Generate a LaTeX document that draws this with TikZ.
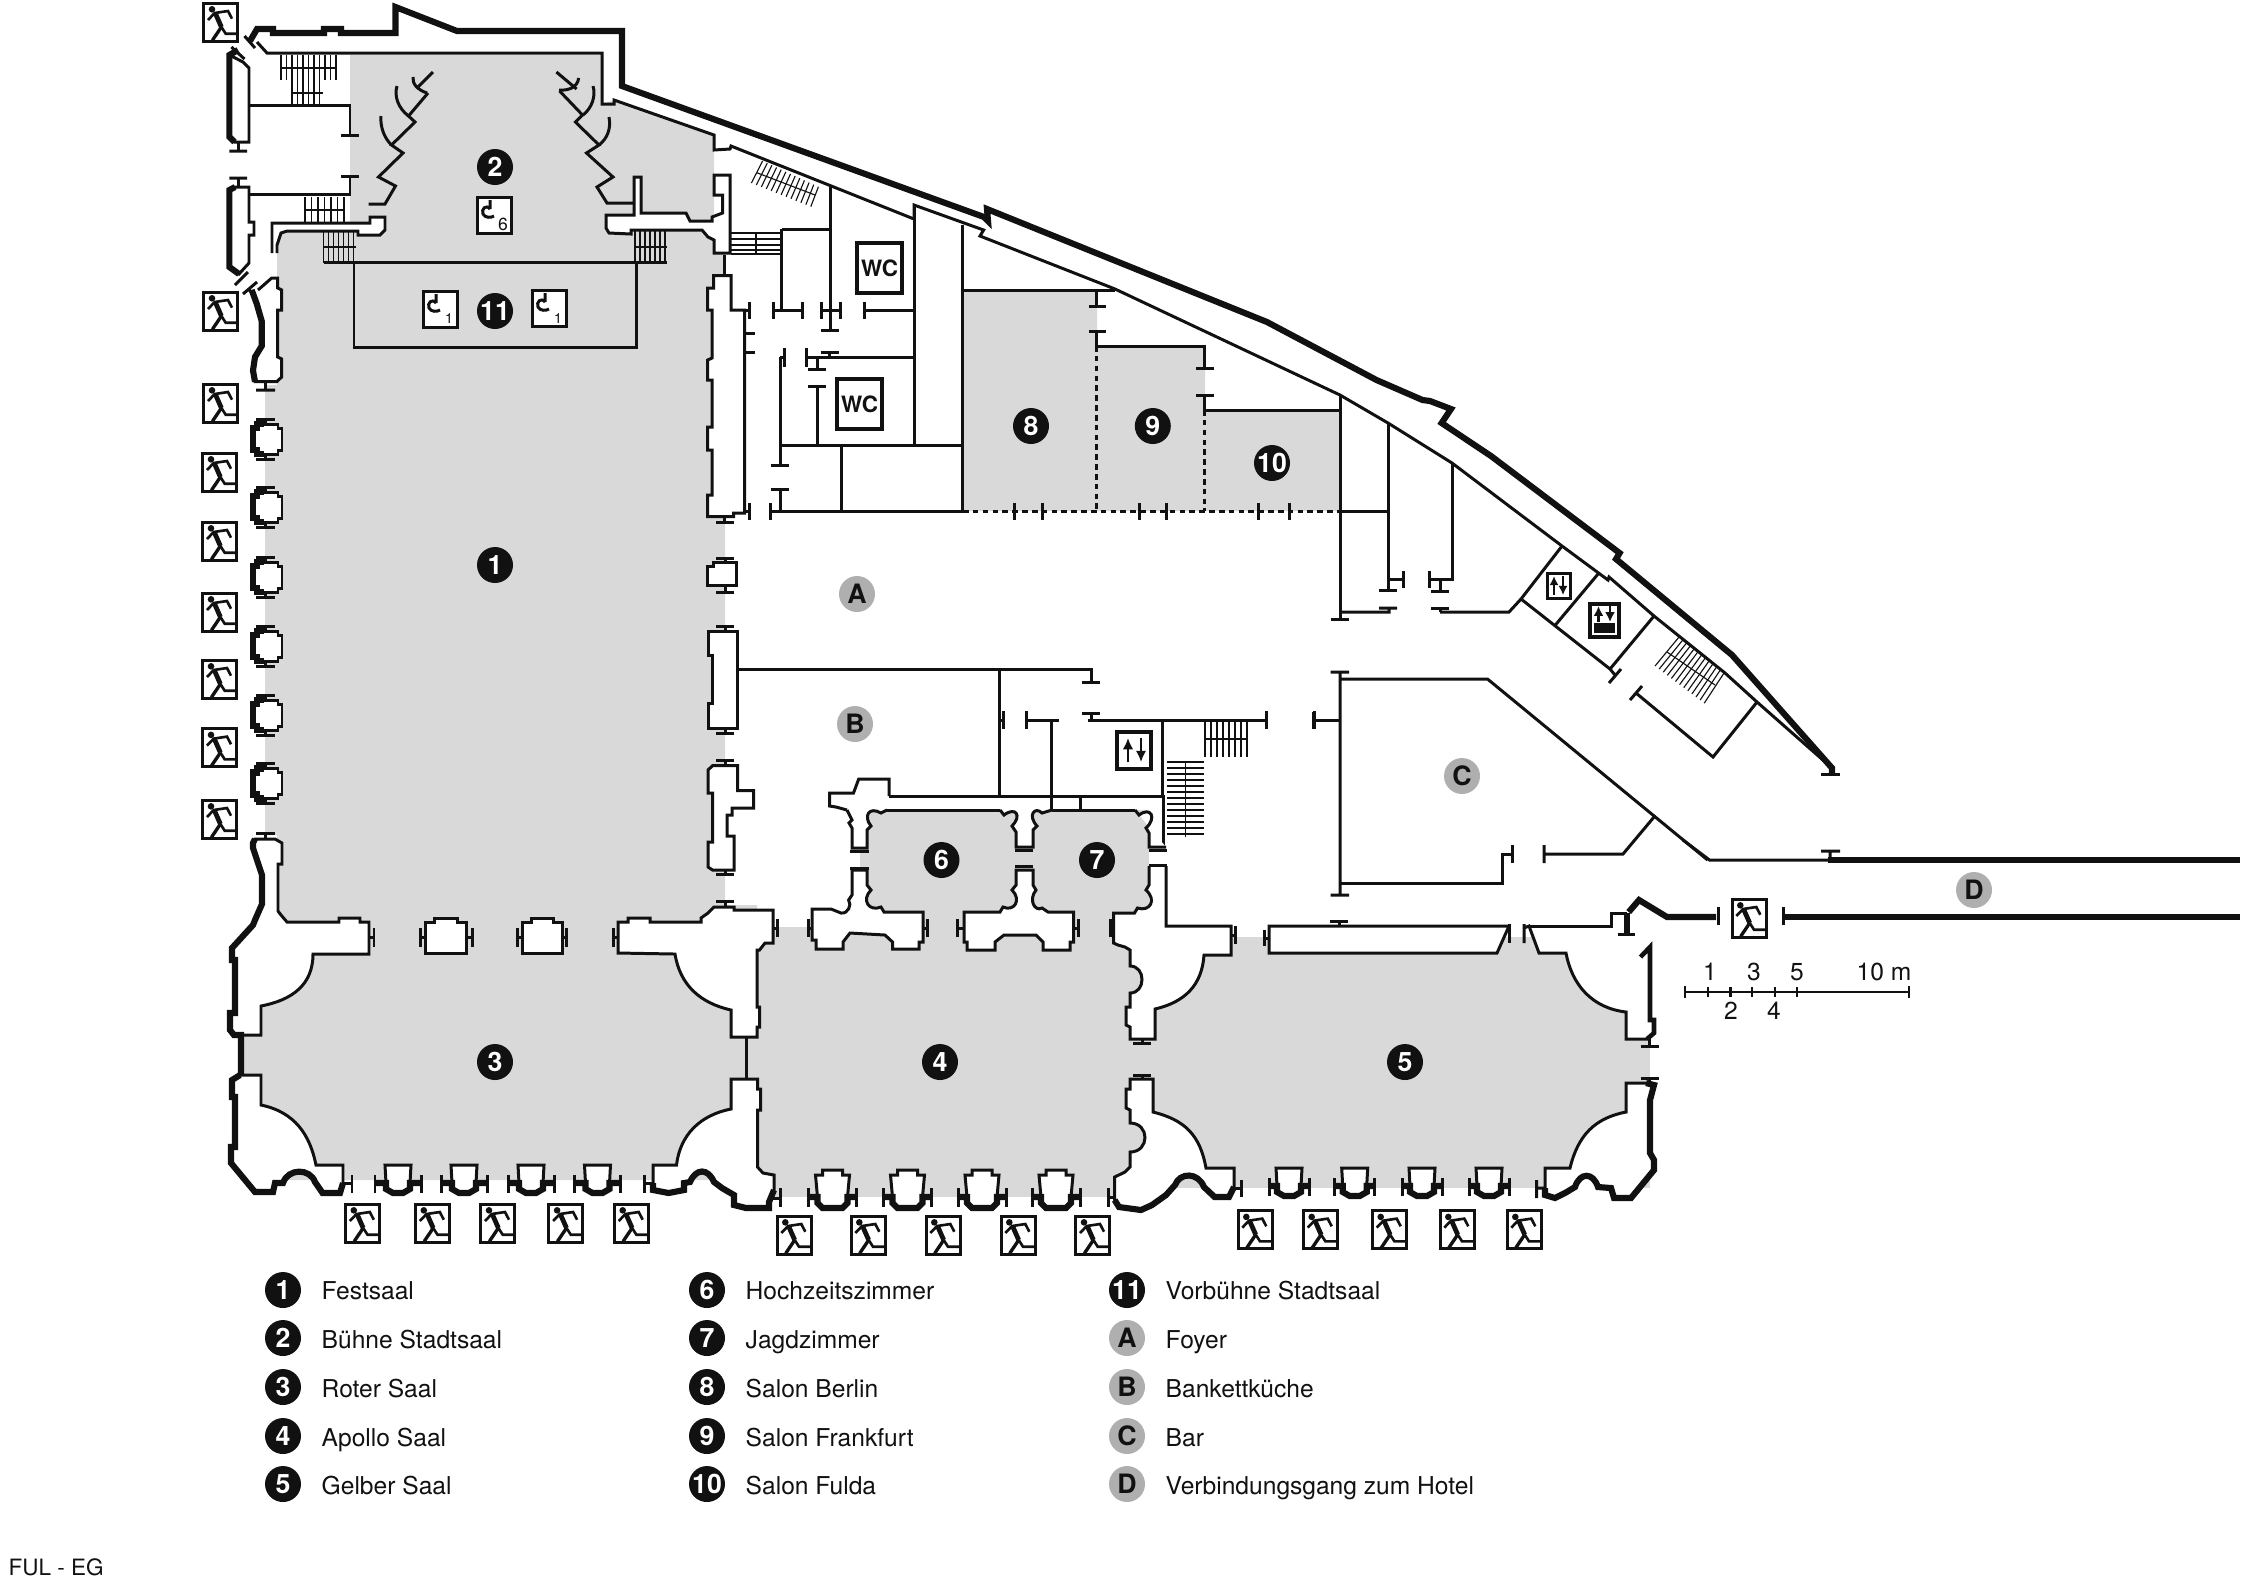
\documentclass[tikz,border=0pt]{standalone}
\usepackage{fontspec}
\setmainfont{TeX Gyre Heros}
\usetikzlibrary{arrows.meta}
\definecolor{roomgray}{HTML}{D9D9D9}
\definecolor{ink}{HTML}{111111}
\definecolor{tagray}{HTML}{AFAFAF}
\tikzset{
  wall/.style={draw=ink,line width=0.85pt,line join=miter},
  heavy/.style={draw=ink,line width=1.75pt,line join=miter},
  fine/.style={draw=ink,line width=0.32pt},
  room/.style={fill=roomgray},
  badge/.style={circle,fill=ink,text=white,inner sep=0pt,minimum size=3.6mm,font=\fontsize{7.6pt}{8pt}\selectfont\bfseries},
  graybadge/.style={badge,fill=tagray,text=ink},
  legend/.style={anchor=base west,inner sep=0pt,text=ink,font=\fontsize{7pt}{8.5pt}\selectfont},
  scaletext/.style={inner sep=0pt,text=ink,font=\fontsize{7pt}{8.5pt}\selectfont},
  exitsign/.pic={
    \draw[draw=ink,line width=0.85pt,fill=white] (0,0) rectangle (34,38);
    \fill[ink] (8.3,6.3) circle (3.3);
    \draw[draw=ink,line width=0.75pt] (4.3,17)--(11,10)--(24.3,8)--(28.3,15.7);
    \draw[draw=ink,line width=1.35pt] (11.5,10)--(17.7,24);
    \draw[draw=ink,line width=0.95pt] (17.7,24)--(8.7,37.3);
    \draw[draw=ink,line width=0.75pt] (17.7,24)--(22,30.7)--(34,30.7);
  },
  hooksign/.pic={
    \draw[draw=ink,line width=0.85pt,fill=white] (0,0) rectangle (34,36);
    \draw[draw=ink,line width=0.85pt] (13,3)--(13,12) (13,12) .. controls (9,7) and (4,12) .. (6,17) .. controls (8,21) and (14,21) .. (17,19);
  }
}
% short door bars
\newcommand{\jambH}[2]{\draw[wall] (#1-9,#2)--(#1+9,#2);}
\newcommand{\jambV}[2]{\draw[wall] (#1,#2-9)--(#1,#2+9);}
% window column on the left side of the hall
\newcommand{\pillar}[1]{
  \draw[wall,fill=white] (257,#1-15)--(278,#1-15)--(278,#1-11)--(282,#1-11)--(282,#1+11)--(278,#1+11)--(278,#1+15)--(257,#1+15)--(257,#1+11)--(253,#1+11)--(253,#1-11)--(257,#1-11)--cycle;
  \draw[heavy] (264,#1-15)--(257,#1-15)--(257,#1-11)--(253,#1-11)--(253,#1+11)--(257,#1+11)--(257,#1+15)--(264,#1+15);
  \draw[wall] (256,#1-20)--(275,#1-20) (265.5,#1-20)--(265.5,#1-15) (256,#1+20)--(275,#1+20) (265.5,#1+20)--(265.5,#1+15);
}
% bay with flat top: centre, top, distance of the bars
\newcommand{\bayflat}[3]{
  \fill[white] (#1-13,#2)--(#1+13,#2)--(#1+12,#2+18)--(#1+12,#2+24)--(#1+5,#2+28)--(#1-5,#2+28)--(#1-12,#2+24)--(#1-12,#2+18)--cycle;
  \draw[wall] (#1-12,#2+18)--(#1-13,#2)--(#1+13,#2)--(#1+12,#2+18);
  \draw[heavy] (#1-#3,#2+18)--(#1-12,#2+18)--(#1-12,#2+24)--(#1-5,#2+28)--(#1+5,#2+28)--(#1+12,#2+24)--(#1+12,#2+18)--(#1+#3,#2+18);
  \draw[wall] (#1-#3,#2+10)--(#1-#3,#2+28) (#1+#3,#2+10)--(#1+#3,#2+28);
}
% bay with round top in the Apollo hall
\newcommand{\bayround}[1]{
  \fill[white] (#1-10,1170)--(#1+10,1170)--(#1+10,1175)--(#1+17,1175)--(#1+15,1197)--(#1+15,1203)--(#1+10,1208)--(#1-10,1208)--(#1-15,1203)--(#1-15,1197)--(#1-17,1175)--(#1-10,1175)--cycle;
  \draw[wall] (#1-15,1197)--(#1-17,1175)--(#1-10,1175)--(#1-10,1170)--(#1+10,1170)--(#1+10,1175)--(#1+17,1175)--(#1+15,1197);
  \draw[heavy] (#1-24,1197)--(#1-15,1197)--(#1-15,1203)--(#1-10,1208)--(#1+10,1208)--(#1+15,1203)--(#1+15,1197)--(#1+24,1197);
  \draw[wall] (#1-24,1188)--(#1-24,1207) (#1+24,1188)--(#1+24,1207);
}
\begin{document}
\begin{tikzpicture}[x=0.1mm,y=-0.1mm]
\useasboundingbox (0,0) rectangle (2250,1582);
% rooms
\fill[room] (350,55)--(602,55)--(602,104)--(614,100)--(714,135)--(714,253)--(725,253)--(725,905)--(277,905)--(277,835)--(265,835)--(265,385)--(277,385)--(277,225)--(350,225)--cycle;
\fill[room] (265,905)--(757,905)--(757,1180)--(241,1180)--(241,1035)--(261,1035)--cycle;
\fill[room] (757,927)--(1130,927)--(1130,1197)--(757,1197)--cycle;
\fill[room] (1130,937)--(1650,937)--(1650,1188)--(1130,1188)--cycle;
\fill[room] (860,810)--(1149,810)--(1149,930)--(860,930)--cycle;
\fill[room] (963,290)--(1097,290)--(1097,346)--(1205,346)--(1205,410)--(1340,410)--(1340,511)--(963,511)--cycle;
% outer wall
\draw[heavy] (250,41)--(257,29)--(273,29)--(273,33)--(324,33)--(324,29)--(341,29)--(341,33)--(395.5,33)--(395.5,7)--(457,31)--(622,31)--(622,86)--(984,217)--(988,221)--(987,209)--(1267,322)--(1376.5,380)--(1422.5,400)--(1430,401)--(1451,409)--(1441.6,423)--(1491,456)--(1619.6,553)--(1616,559)--(1732,655)--(1832,768)--(1832,774);
\draw[wall] (1821,774)--(1840,774);
\draw[wall] (244.5,36)--(255,48) (257,42)--(267,53)--(602,53)--(602,104)--(614,104)--(614,100)--(714,135)--(714,150)--(730,149)--(731,146)--(914,219);
\draw[wall] (914,219)--(914,205)--(983.6,230)--(980,236)--(1115,289)--(1340,395)--(1388,423)--(1452,463)--(1562,546)--(1608,580)--(1609,577)--(1654,616)--(1725,673)--(1757,702)--(1832,768);
% left wall, upper pilasters
\draw[wall,fill=white] (229.4,55)--(243,62)--(249,68)--(249,142)--(234.6,142)--(229.4,137)--cycle;
\draw[heavy] (238,50)--(229.4,55)--(229.4,137)--(234.6,142);
\draw[wall] (231.4,47)--(244.5,59) (238.5,142)--(238.5,151) (229.4,151)--(247,151);
\draw[wall] (249,105)--(350,105)--(350,135) (341,135)--(359,135);
\draw[wall] (341,176)--(359,176) (350,176)--(350,194)--(249,194);
\draw[wall,fill=white] (235,187)--(249,187)--(249,222)--(254,222)--(254,235)--(249,235)--(249,263)--(239,274)--(229.4,267)--(229.4,190)--cycle;
\draw[heavy] (235,187)--(229.4,190)--(229.4,267)--(239,274);
\draw[wall] (229.4,178)--(247,178) (238.5,178)--(238.5,187) (235,285)--(248,272);
% stairs
\foreach \sx in {281,286.5,...,336}{\draw[fine] (\sx,55)--(\sx,80);}
\draw[fine] (281,68)--(335,68);
\foreach \sx in {292,297.5,...,324}{\draw[fine] (\sx,80)--(\sx,104);}
\draw[fine] (292,93)--(323,93);
\foreach \sx in {305,311.5,...,346}{\draw[fine] (\sx,197)--(\sx,222);}
\draw[fine] (305,210)--(345,210);
\foreach \sx in {323.5,328.5,...,357}{\draw[fine] (\sx,232)--(\sx,263);}
\draw[fine] (323.5,247)--(356,247);
\foreach \sx in {635,640,...,668}{\draw[fine] (\sx,231)--(\sx,263);}
\draw[fine] (635,247)--(667,247);
\foreach \sy in {233,239,245,250,254}{\draw[fine] (731,\sy)--(782,\sy);}
\draw[fine] (756,233)--(756,254);
\foreach \st in {0,...,12}{\draw[fine] (762.6+\st*4.65,161+\st*2.15)--(751.4+\st*4.95,183+\st*1.97);}
\draw[fine] (756.8,172.7)--(815,195);
\foreach \st in {0,...,12}{\draw[fine] (1679+\st*3.75,637+\st*3)--(1655+\st*4.1,666+\st*3.1);}
\draw[fine] (1667,652)--(1715,685);
\foreach \sx in {1205,1211,...,1249}{\draw[fine] (\sx,722)--(\sx,757);}
\draw[fine] (1205,739)--(1248,739);
\foreach \sy in {762,768,...,838}{\draw[fine] (1167,\sy)--(1204,\sy);}
\draw[fine] (1185.6,762)--(1185.6,837);
% stage band
\draw[wall,fill=white] (272,253)--(272,223)--(370,223)--(370,217)--(385,217)--(385,230)--(380,235)--(358,235)--(358,231)--(287,231)--(281,233)--(277,245)--(277,253);
\draw[wall,fill=white] (606,215)--(634,215)--(634,177)--(641,177)--(641,213)--(686,213)--(690,221)--(712,221)--(712,217)--(722.5,213)--(722.5,195)--(714,195)--(714,175)--(730,175)--(730,253)--(714,253)--(714,240)--(708,237)--(702,230)--(631,230)--(631,234)--(609,233)--(606,228)--cycle;
\draw[wall] (323.5,262.7)--(667,262.7) (354,262.7)--(354,347.3)--(636,347.3)--(636,262.7);
% stage doors
\draw[wall] (433,72)--(417,88) (428,93)--(408.5,116)--(415,122)--(391.5,145)--(403,153)--(378.5,177)--(395.5,186)--(385,204)--(368.6,204);
\draw[wall] (413,77) .. controls (412,84) and (418,90) .. (427,93);
\draw[wall] (397,86) .. controls (394,96) and (398,108) .. (408.5,116);
\draw[wall] (381,116) .. controls (380,126) and (384,138) .. (391.5,145);
\draw[wall] (556.4,72)--(576.6,89) (559.6,91)--(582.5,115)--(575.4,122)--(599,145)--(586.5,153)--(613,177)--(597,187)--(607,203)--(634,203);
\draw[wall] (578.6,78) .. controls (578,86) and (570,91) .. (559,90);
\draw[wall] (593,86) .. controls (596,96) and (592,108) .. (583,115);
\draw[wall] (609,117) .. controls (611,128) and (608,138) .. (599,145);
% left wall, hall
\draw[wall,fill=white] (258,290)--(271.7,278)--(277.7,278)--(277.7,288)--(281.7,290)--(281.7,310)--(277.7,310)--(277.7,357)--(281.7,359)--(281.7,377)--(276.7,381.7)--(255,381.7)--(253,370.5)--(255,357)--(261.7,346)--(261.7,321)--(256.7,303.6)--(251.7,290);
\draw[heavy] (251.7,290)--(256.7,303.6)--(261.7,321)--(261.7,346)--(255,357)--(253,370.5)--(255,381.7);
\draw[wall] (243,294)--(257,282) (248,289)--(254,294) (256,390)--(275,390) (265.5,382)--(265.5,390);
\pillar{439}
\pillar{507}
\pillar{577}
\pillar{646}
\pillar{715}
\pillar{783.5}
% left corner of the red hall
\draw[wall,fill=white] (255,839)--(275,839)--(282,843)--(282,864)--(278,864)--(278,911)--(281,915)--(287,922)--(339,922)--(339,918)--(360,918)--(360,922)--(369,922)--(369,954)--(313,954) .. controls (313,985) and (292,1000) .. (261,1006)--(261,1035)--(234,1035)--(230,1030)--(230,1013)--(235,1013)--(235,960)--(232,960)--(232,948)--(253,925)--(255,920)--(262,904)--(262,875)--(253,848)--(253,843)--cycle;
\draw[heavy] (255,839)--(253,843)--(253,848)--(262,875)--(262,904)--(255,920)--(253,925)--(232,948)--(232,960)--(235,960)--(235,1013)--(230,1013)--(230,1030)--(234,1035)--(241,1035)--(241,1075);
\draw[wall] (256,833)--(275,833) (265.5,833)--(265.5,839);
\draw[wall] (369,937)--(374,937) (374,928)--(374,947);
% columns between hall and red hall
\draw[wall,fill=white] (425,953)--(425,922)--(434.5,922)--(434.5,918)--(457,918)--(457,922)--(466,922)--(466,953)--cycle;
\draw[wall,fill=white] (522,953)--(522,922)--(531,922)--(531,918)--(553,918)--(553,922)--(562,922)--(562,953)--cycle;
\draw[wall] (420.6,928)--(420.6,947) (420.6,937)--(425,937) (466,937)--(472,937) (472,928)--(472,947);
\draw[wall] (517.5,928)--(517.5,947) (517.5,937)--(522,937) (562,937)--(566.5,937) (566.5,928)--(566.5,947);
% right block of the red hall, top
\draw[wall,fill=white] (618,953)--(618,922)--(628,922)--(628,918)--(650,918)--(650,922)--(701,922)--(701,918)--(708,913)--(714,907)--(734,907)--(734,910)--(773,910)--(773,943)--(765,943)--(759.5,950)--(757,950)--(757,1007)--(759.5,1007)--(759.5,1027)--(757,1027)--(757,1037)--(731,1037)--(731,1010) .. controls (700,1003) and (680,985) .. (675,954)--cycle;
\draw[wall] (613,928)--(613,947) (613,937)--(618,937) (716,901)--(734,901) (725,901)--(725,907);
\draw[wall] (773,928)--(777,928) (777,919)--(777,937) (746,1037)--(746,1079);
% lower blocks of the red hall
\draw[wall,fill=white] (261,1075)--(261,1105) .. controls (295,1112) and (310,1135) .. (316,1165)--(343,1165)--(343,1183)--(340,1193)--(322.6,1193)--(315,1182) .. controls (310,1168) and (288,1168) .. (283,1183)--(275,1183)--(273,1192)--(255,1192)--(231,1163)--(231,1147)--(235,1147)--(235,1097)--(232,1097)--(232,1080)--(240,1075)--cycle;
\draw[heavy] (343,1183)--(340,1193)--(322.6,1193)--(315,1182) .. controls (310,1168) and (288,1168) .. (283,1183)--(275,1183)--(273,1192)--(255,1192)--(231,1163)--(231,1147)--(235,1147)--(235,1097)--(232,1097)--(232,1080)--(240,1075);
\draw[wall] (343,1183)--(352,1183) (352,1175)--(352,1193);
\bayflat{398}{1165}{23}
\bayflat{464}{1165}{23}
\bayflat{531}{1165}{23}
\bayflat{597.5}{1165}{23}
\draw[wall,fill=white] (731,1079)--(757.5,1079)--(757.5,1089)--(760.7,1089)--(760.7,1110)--(757.5,1110)--(757.5,1167)--(763,1173)--(774,1175)--(774,1190)--(769,1202)--(769,1208)--(746,1208)--(734,1205)--(734,1195)--(722,1188)--(714,1182) .. controls (708,1168) and (696,1168) .. (690,1182)--(684,1183)--(684,1190)--(668.6,1193)--(653,1190)--(653,1165)--(676.5,1165) .. controls (680,1135) and (700,1115) .. (731,1109)--cycle;
\draw[heavy] (774,1190)--(769,1202)--(769,1208)--(746,1208)--(734,1205)--(734,1195)--(722,1188)--(714,1182) .. controls (708,1168) and (696,1168) .. (690,1182)--(684,1183)--(684,1190)--(668.6,1193)--(653,1190)--(653,1183);
\draw[wall] (644,1183)--(653,1183) (644,1175)--(644,1193) (769,1198)--(780.5,1198) (780.5,1188)--(780.5,1207);
% blocks between the Apollo hall and rooms 6 and 7
\draw[wall,fill=white] (812,909)--(831,909)--(841,913) .. controls (848,914) and (852,905) .. (848.6,900)--(852,895)--(852,870)--(867,870)--(867,885)--(871,890) .. controls (861,900) and (869,912) .. (881,907)--(884,912)--(923,912)--(923,942)--(919,942)--(919,949)--(892.5,949)--(892.5,942)--(885,935)--(850,933)--(843,942)--(843,949)--(816,949)--(816,940)--(812,940)--cycle;
\draw[wall] (808.6,919)--(808.6,937) (808.6,928)--(812,928) (923,928)--(927,928) (927,919)--(927,937);
\draw[wall,fill=white] (964,912)--(1000,912)--(1003,907) .. controls (1014,912) and (1022,900) .. (1012,890)--(1016,885)--(1016,870)--(1033,870)--(1033,885)--(1036,890) .. controls (1028,900) and (1035,912) .. (1042,908)--(1048,912)--(1073.6,912)--(1073.6,942)--(1070,942)--(1070,950)--(1043,950)--(1043,942)--(1036,935)--(1004,935)--(995,942)--(995,950)--(967,950)--(967,942)--(964,942)--cycle;
\draw[wall] (957.5,919)--(957.5,937) (957.5,928)--(964,928) (1073.6,928)--(1078,928) (1078,919)--(1078,937);
% right block of the Apollo hall
\draw[wall,fill=white] (1149,866)--(1149,885)--(1146,890) .. controls (1157,900) and (1150,912) .. (1137.5,908)--(1134.5,913)--(1113.6,913)--(1113.6,943)--(1118,945)--(1125,947)--(1130,950)--(1130,966) .. controls (1146,966) and (1146,993) .. (1130,993)--(1130,1007)--(1126,1007)--(1126,1025)--(1130,1027)--(1130,1039)--(1155,1039)--(1155,1009) .. controls (1185,1002) and (1202,985) .. (1204,955)--(1231,955)--(1231,926)--(1166,926)--(1166,866);
\draw[wall] (1110,919)--(1110,937) (1110,928)--(1113.6,928) (1231,935)--(1235,935) (1235,926)--(1235,944);
\draw[wall] (1133,1043)--(1151,1043) (1142,1039)--(1142,1043) (1133,1075)--(1151,1075) (1142,1075)--(1142,1079);
\draw[wall,fill=white] (1130,1079)--(1153,1079)--(1153,1112) .. controls (1185,1120) and (1200,1135) .. (1206,1168)--(1234,1168)--(1234,1187)--(1229,1197)--(1214.6,1197)--(1204,1187) .. controls (1198,1172) and (1180,1172) .. (1175,1185)--(1166,1195)--(1152,1205)--(1141,1210)--(1119,1207)--(1114.6,1200)--(1114.6,1177)--(1125,1172)--(1130,1167)--(1130,1152) .. controls (1150,1152) and (1150,1123) .. (1130,1123)--(1130,1110)--(1126,1108)--(1126,1089)--(1130,1089)--cycle;
\draw[heavy] (1234,1187)--(1229,1197)--(1214.6,1197)--(1204,1187) .. controls (1198,1172) and (1180,1172) .. (1175,1185)--(1166,1195)--(1152,1205)--(1141,1210)--(1119,1207)--(1114.6,1200);
\draw[wall] (1108.6,1188)--(1108.6,1207) (1108.6,1197)--(1114.6,1197) (1234,1188)--(1241,1188) (1241,1180)--(1241,1197);
\bayround{832.5}
\bayround{907.5}
\bayround{982}
\bayround{1056}
% yellow hall
\bayflat{1289}{1168}{20}
\bayflat{1354.7}{1168}{20}
\bayflat{1422}{1168}{20}
\bayflat{1489}{1168}{20}
\draw[wall,fill=white] (1269,926)--(1509,926)--(1497,953)--(1269,953)--cycle;
\draw[wall] (1264.7,930)--(1264.7,946) (1264.7,938)--(1269,938) (1330,921)--(1348,921) (1339,921)--(1339,926) (1509,924)--(1509,943);
\fill[white] (1529,926)--(1539,953)--(1566,953) .. controls (1572,985) and (1592,1008) .. (1626,1012)--(1626,1039)--(1650,1039)--(1650,926)--cycle;
\draw[wall] (1524,924)--(1524,943) (1524,928)--(1529,926)--(1539,953)--(1566,953) .. controls (1572,985) and (1592,1008) .. (1626,1012)--(1626,1039)--(1650,1039);
\draw[wall] (1640.5,1046)--(1659,1046) (1649,1039)--(1649,1046);
\draw[heavy,line width=1.3pt] (1640.5,957)--(1650,947)--(1650,1020)--(1654,1020)--(1654,1033)--(1647,1039);
\draw[wall] (1529,926)--(1611,926)--(1611,913)--(1627,913);
\draw[heavy] (1627,913)--(1627,934);
\draw[wall] (1617.5,934)--(1635,934);
\draw[heavy] (1628.7,912)--(1639,900)--(1667,917)--(1716,917);
\draw[wall] (1718,907)--(1718,925) (1783,907)--(1783,925);
\draw[heavy] (1783,917)--(2240,917) (1828,860)--(2240,860);
\draw[wall] (1821,851)--(1840,851) (1830,851)--(1830,860) (1683,840)--(1709.5,860)--(1828,860);
\fill[white] (1545,1168)--(1570,1168) .. controls (1578,1135) and (1595,1118) .. (1626,1112)--(1626,1083)--(1654,1083)--(1654,1170)--(1631,1198)--(1545,1198)--cycle;
\draw[wall] (1536.7,1180)--(1536.7,1198) (1536.7,1188)--(1545,1188) (1545,1188)--(1545,1168)--(1570,1168) .. controls (1578,1135) and (1595,1118) .. (1626,1112)--(1626,1083)--(1646,1083);
\draw[wall] (1640.5,1078)--(1659,1078) (1649,1078)--(1649,1083);
\draw[heavy] (1646,1083)--(1654,1085)--(1650,1100)--(1650,1153)--(1654,1160)--(1654,1170)--(1631,1198)--(1614,1198)--(1611,1188)--(1598,1187) .. controls (1593,1172) and (1580,1172) .. (1575,1187)--(1565,1193)--(1555,1198)--(1545,1195)--(1545,1188);
% offices and kitchen along the diagonal
\draw[wall] (914.4,205)--(914.4,446) (962.6,225)--(962.6,511);
\draw[wall] (963,290)--(1115,290) (1096.5,290)--(1096.5,306) (1088.5,306)--(1105.5,306) (1088.5,331.7)--(1105.5,331.7) (1096.5,331.7)--(1096.5,346)--(1204.5,346)--(1204.5,368) (1195.6,368)--(1213.5,368) (1195.6,395)--(1213.5,395) (1204.5,395)--(1204.5,410)--(1340,410);
\draw[wall,dashed,dash pattern=on 1.6pt off 1.2pt] (1096.5,346)--(1096.5,511) (1204.5,410)--(1204.5,511) (963,511)--(1340,511);
\foreach \bx in {1014,1042.5,1139,1166.6,1258,1289}{\draw[wall] (\bx,503)--(\bx,520);}
\draw[wall] (1340,395)--(1340,619) (1330.6,619)--(1349,619) (1340,511.7)--(1388,511.7) (1388,423)--(1388,590) (1379,590)--(1397,590) (1388,579)--(1403,579) (1403,571)--(1403,588);
\draw[wall] (1452,463)--(1452,579)--(1429,579) (1429,571)--(1429,588) (1440,579)--(1440,591) (1431,591)--(1448.5,591);
\draw[wall] (1340,612)--(1389,612)--(1389,608) (1379,608)--(1397,608) (1440,612)--(1509,612)--(1521,599)--(1562,546);
\draw[wall] (1431,608)--(1448.5,608) (1440,608)--(1440,612);
\draw[wall] (1521,599)--(1610,669)--(1654,616) (1554.5,626)--(1598,574) (1609,683)--(1621,669) (1610,669)--(1615,675);
\draw[wall] (1630,700)--(1642,686) (1636,693)--(1713,757)--(1757,702);
% bar
\draw[wall] (1330.6,672)--(1349,672) (1340,672)--(1340,895) (1330.6,895)--(1349,895) (1340,679)--(1487.5,679)--(1707.6,860);
\draw[wall] (1313,712)--(1313,729) (1313,720)--(1340,720) (1340,883)--(1502,883)--(1502,854)--(1512,854) (1512,845)--(1512,863);
\draw[wall] (1544,845)--(1544,863) (1544,854)--(1623,854)--(1654,817);
% WC area
\draw[wall] (830.4,187)--(830.4,330) (820.6,330)--(838.5,330) (781.8,229)--(830,229) (781.8,229)--(781.8,310);
\draw[wall] (731,310)--(749,310) (749,302)--(749,319) (773,302)--(773,319) (773,310)--(802.8,310) (802.8,302)--(802.8,319) (821.5,302)--(821.5,319) (821.5,310)--(840.7,310) (840.7,302)--(840.7,319) (864.4,302)--(864.4,319) (864.4,310)--(914.4,310);
\draw[wall] (721.5,310)--(721.5,356.7)--(744.7,356.7) (744.7,310)--(744.7,333) (736,333)--(754.5,333) (736,352.7)--(754.5,352.7) (744.7,352.7)--(744.7,513);
\draw[wall] (780.4,357)--(780.4,465) (770.6,465)--(789.4,465) (780.4,357)--(784,357) (784,348)--(784,367) (806,348)--(806,367) (806,357.7)--(914.4,357.7);
\draw[wall] (820.6,352.7)--(838.5,352.7) (829.5,352.7)--(829.5,357.7) (808,369)--(826,369) (817,357.7)--(817,369) (808,386)--(826,386) (817,386)--(817,445);
\draw[wall] (780.4,445)--(962.6,445) (841.6,445)--(841.6,511) (770.6,489.3)--(789.4,489.3) (780.4,489.3)--(780.4,511) (770.6,511)--(962.6,511);
\draw[wall] (749,503)--(749,520) (770.6,503)--(770.6,520) (744.7,511)--(749,511);
\draw[draw=ink,line width=1.25pt,fill=white] (857,243) rectangle (902,293) node[midway,font=\fontsize{6.4pt}{7pt}\selectfont\bfseries,text=ink] (wcupper) {WC};
\draw[draw=ink,line width=1.25pt,fill=white] (837,379) rectangle (882,429) node[midway,font=\fontsize{6.4pt}{7pt}\selectfont\bfseries,text=ink] (wclower) {WC};
% pilasters along the foyer
\draw[wall] (724.6,255)--(724.6,275.7);
\draw[wall,fill=white] (713.5,275.7)--(731,275.7)--(731,310)--(744.7,310)--(744.7,513)--(733.6,513)--(733.6,516.7)--(707.7,516.7)--(707.7,495)--(712,495)--(712,450)--(707.7,450)--(707.7,427)--(712,427)--(712,380)--(707.7,380)--(707.7,360)--(712,358)--(712,310)--(707.7,310)--(707.7,288)--(713.5,288)--cycle;
\draw[wall] (716,522.3)--(733.6,522.3) (724.6,516.7)--(724.6,522.3);
\draw[wall,fill=white] (713,562)--(736.7,562)--(736.7,585)--(707.7,585)--(707.7,566)--(713,566)--cycle;
\draw[wall] (716,558)--(734,558) (725,558)--(725,562) (716,592.3)--(734,592.3) (725,585)--(725,592.3);
\draw[wall,fill=white] (708,631)--(737.7,631)--(737.7,728)--(708,728)--(708,703)--(712.5,703)--(712.5,655)--(708,655)--cycle;
\draw[wall] (716,626)--(734,626) (725,626)--(725,631) (716,733)--(734,733) (725,728)--(725,733);
\draw[wall,fill=white] (712.5,765.7)--(737.7,765.7)--(737.7,790.7)--(753.7,790.7)--(753.7,808)--(732,808)--(732,815)--(727,815)--(727,836)--(734,836)--(734,870)--(712.5,870)--(708,867)--(708,842)--(712.5,842)--(712.5,793)--(708,793)--(708,770)--cycle;
\draw[wall] (716,760.7)--(734,760.7) (725,760.7)--(725,765.7) (716,874)--(734,874) (725,870)--(725,874);
% kitchen
\draw[wall] (737.7,669)--(1091,669)--(1091,682) (1082,682)--(1100,682) (999,669)--(999,796);
\draw[wall] (1003,711)--(1003,729) (999,720)--(1003,720) (1026,711)--(1026,729) (1026,720)--(1059.4,720) (1051.6,720)--(1051.6,810);
\draw[wall] (1082,713)--(1100,713) (1091,713)--(1091,720) (1088,720)--(1266,720) (1266,711)--(1266,729) (1314,711)--(1314,729) (1314,720)--(1340,720) (1162,720)--(1162,795);
\draw[wall,fill=white] (847,810)--(852,820)--(849,823)--(852,828)--(852,848)--(867,848)--(867,830)--(871,826) .. controls (863,816) and (869,806) .. (881,813)--(887,810);
\draw[wall] (887,810)--(1000,810) (1052,810)--(1135,810);
\draw[wall] (889,796)--(889,779)--(858.7,779)--(853.5,793)--(829.6,793)--(829.6,806)--(836,807)--(847,810);
\draw[wall] (889,796)--(1163.5,796)--(1163.5,847) (1080,796)--(1080,810);
\draw[wall,fill=white] (1000,810)--(1004,815) .. controls (1016,806) and (1022,816) .. (1012,826)--(1016,832)--(1016,847)--(1033,847)--(1033,830)--(1037,826) .. controls (1027,815) and (1035,806) .. (1042,813)--(1052,810);
\draw[wall,fill=white] (1135,810)--(1139,815) .. controls (1151,806) and (1157,818) .. (1146,828)--(1149,833)--(1149,847)--(1166,847);
\draw[wall] (850,851)--(868.6,851) (850,868)--(868.6,868) (1015,850)--(1033,850) (1015,866)--(1033,866) (1149,850)--(1166.5,850) (1149,865)--(1166.5,865);
% elevators
\draw[draw=ink,line width=0.85pt,fill=white] (1547,573) rectangle (1570,598);
\draw[wall,-{Latex[length=2.6pt,width=2.6pt]},line width=0.5pt] (1554,595)--(1554,576);
\draw[wall,-{Latex[length=2.6pt,width=2.6pt]},line width=0.5pt] (1563,576)--(1563,595);
\draw[draw=ink,line width=1.1pt,fill=white] (1590,604) rectangle (1619,637);
\draw[wall,-{Latex[length=2.8pt,width=2.8pt]},line width=0.6pt] (1598.5,622)--(1598.5,606);
\draw[wall,-{Latex[length=2.8pt,width=2.8pt]},line width=0.6pt] (1610,606)--(1610,622);
\fill[ink] (1593.5,623.3) rectangle (1614.6,633.3);
\draw[draw=ink,line width=1.1pt,fill=white] (1117,732) rectangle (1151,769);
\draw[wall,-{Latex[length=3.2pt,width=3pt]},line width=0.7pt] (1128,762)--(1128,738);
\draw[wall,-{Latex[length=3.2pt,width=3pt]},line width=0.7pt] (1141,738)--(1141,762);
% cloakrooms
\pic at (477,197) {hooksign};
\pic at (423,291) {hooksign};
\pic at (532,290) {hooksign};
\node[inner sep=0pt,text=ink,font=\fontsize{5pt}{6pt}\selectfont] (hooksix) at (503,224) {6};
\node[inner sep=0pt,text=ink,font=\fontsize{4pt}{5pt}\selectfont] (hookleft) at (449,318) {1};
\node[inner sep=0pt,text=ink,font=\fontsize{4pt}{5pt}\selectfont] (hookright) at (558,318) {1};
% exits
\foreach \ex/\ey in {203.7/3,203.7/292,203.7/384,202.7/453,202.7/522,202.7/593,202.7/660,202.7/728.6,202.7/800,345.5/1204,415.5/1204,480.7/1204,548.8/1204,614.4/1204,777/1216,851/1216,926/1216,1001/1216,1075.7/1216,1238/1210.6,1303.4/1210.6,1372.4/1210.6,1440/1210.6,1507/1210.6,1732/899}
  {\pic at (\ex,\ey) {exitsign};}
% scale
\draw[wall,line width=0.6pt] (1685,992)--(1909,992) (1685,986)--(1685,998) (1909,986)--(1909,998);
\foreach \tx in {1708,1730.5,1752,1775,1797}{\draw[wall,line width=0.6pt] (\tx,987)--(\tx,997);}
\node[scaletext] (s1) at (1710,972) {1};
\node[scaletext] (s3) at (1754,972) {3};
\node[scaletext] (s5) at (1797,972) {5};
\node[scaletext] (s10) at (1884,972) {10 m};
\node[scaletext] (s2) at (1731,1011) {2};
\node[scaletext] (s4) at (1774,1011) {4};
% room numbers
\node[badge] (r1) at (495,565) {1};
\node[badge] (r2) at (495,167) {2};
\node[badge] (r3) at (495,1062) {3};
\node[badge] (r4) at (940,1062) {4};
\node[badge] (r5) at (1405,1062) {5};
\node[badge] (r6) at (941.5,860) {6};
\node[badge] (r7) at (1097,860) {7};
\node[badge] (r8) at (1031,426) {8};
\node[badge] (r9) at (1152.8,426) {9};
\node[badge] (r10) at (1272,463) {10};
\node[badge] (r11) at (495,311) {11};
\node[graybadge] (ra) at (857,594) {A};
\node[graybadge] (rb) at (855,724) {B};
\node[graybadge] (rc) at (1462,776) {C};
\node[graybadge] (rd) at (1974,890) {D};
% legend
\node[badge] (l1) at (283,1290) {1};
\node[badge] (l2) at (283,1338) {2};
\node[badge] (l3) at (283,1387) {3};
\node[badge] (l4) at (283,1436) {4};
\node[badge] (l5) at (283,1484) {5};
\node[legend] (t1) at (321,1299) {Festsaal};
\node[legend] (t2) at (321,1348) {Bühne Stadtsaal};
\node[legend] (t3) at (321,1397) {Roter Saal};
\node[legend] (t4) at (321,1446) {Apollo Saal};
\node[legend] (t5) at (321,1494) {Gelber Saal};
\node[badge] (l6) at (707,1290) {6};
\node[badge] (l7) at (707,1338) {7};
\node[badge] (l8) at (707,1387) {8};
\node[badge] (l9) at (707,1436) {9};
\node[badge] (l10) at (707,1484) {10};
\node[legend] (t6) at (745,1299) {Hochzeitszimmer};
\node[legend] (t7) at (745,1348) {Jagdzimmer};
\node[legend] (t8) at (745,1397) {Salon Berlin};
\node[legend] (t9) at (745,1446) {Salon Frankfurt};
\node[legend] (t10) at (745,1494) {Salon Fulda};
\node[badge] (l11) at (1127,1290) {11};
\node[graybadge] (la) at (1127,1338) {A};
\node[graybadge] (lb) at (1127,1387) {B};
\node[graybadge] (lc) at (1127,1436) {C};
\node[graybadge] (ld) at (1127,1484) {D};
\node[legend] (t11) at (1165,1299) {Vorbühne Stadtsaal};
\node[legend] (ta) at (1165,1348) {Foyer};
\node[legend] (tb) at (1165,1397) {Bankettküche};
\node[legend] (tc) at (1165,1446) {Bar};
\node[legend] (td) at (1165,1494) {Verbindungsgang zum Hotel};
\node[legend,font=\fontsize{6.4pt}{8pt}\selectfont] (fl) at (8,1575) {FUL - EG};
\end{tikzpicture}
\end{document}
